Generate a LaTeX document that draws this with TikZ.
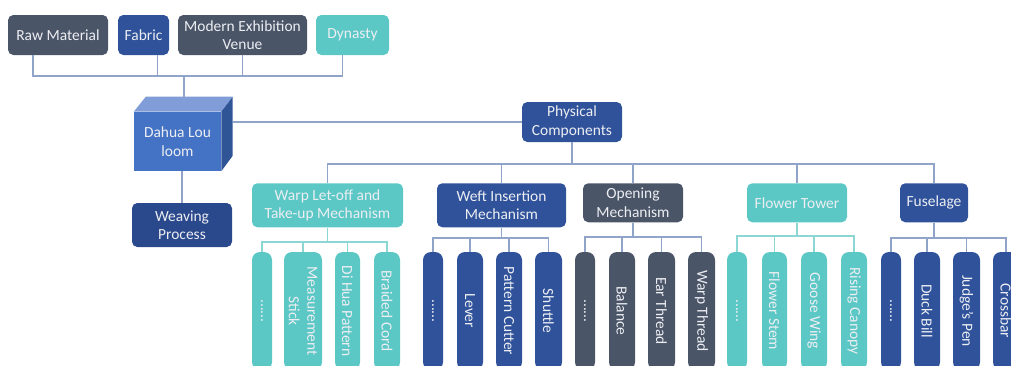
\documentclass[tikz,border=0pt]{standalone}
\usepackage{fontspec}
\setmainfont{Carlito}
\usetikzlibrary{positioning, calc}
\definecolor{slate}{RGB}{75,85,104}
\definecolor{navy}{RGB}{47,82,155}
\definecolor{deepnavy}{RGB}{42,72,140}
\definecolor{aqua}{RGB}{92,200,198}
\definecolor{wire}{RGB}{143,164,200}
\definecolor{aquawire}{RGB}{140,214,212}
\definecolor{cubefront}{RGB}{68,114,196}
\definecolor{cubetop}{RGB}{128,157,216}
\definecolor{cubeside}{RGB}{47,85,151}
\definecolor{ink}{RGB}{236,238,242}

\begin{document}
\begin{tikzpicture}[x=0.75pt, y=-0.75pt, font=\fontsize{11.6}{13.8}\selectfont,
    box/.style={rounded corners=4pt, fill=#1, text=ink, align=center, inner sep=1pt},
    leaf/.style={rounded corners=6pt, fill=#1, text=ink, align=center, inner sep=1pt, rotate=-90, minimum width=88.5pt},
    link/.style={draw=wire, line width=1.2pt},
  ]
  \useasboundingbox (0,0) rectangle (1011,365);

  % Attributes on top
  \node[box=slate, minimum width=75pt, minimum height=30pt] (raw) at (58,35) {Raw Material};
  \node[box=navy, minimum width=38.25pt, minimum height=30pt] (fabric) at (143.5,35) {Fabric};
  \node[box=slate, minimum width=96.75pt, minimum height=30pt] (venue) at (242.5,35) {Modern Exhibition\\Venue};
  \node[box=aqua, minimum width=54.75pt, minimum height=30pt] (dynasty) at (352.5,35) {Dynasty};
  \coordinate (topbus) at (184,76);
  \draw[link] ([xshift=-18.75pt]raw.south) |- (topbus);
  \draw[link] ([xshift=10.5pt]fabric.south) |- (topbus);
  \draw[link] (venue.south) |- (topbus);
  \draw[link] ([xshift=-7.5pt]dynasty.south) |- (topbus);

  % The loom (cube)
  \node[fill=cubefront, text=ink, align=center, minimum width=65.25pt, minimum height=44.25pt] (loom) at (177.5,141.5) {Dahua Lou\\loom};
  \fill[cubetop] (loom.north west) -- ++(12,-15) -- ++(87,0) coordinate (cubeback) -- (loom.north east) -- cycle;
  \fill[cubeside] (loom.north east) -- (cubeback) -- ++(0,59) -- (loom.south east) -- cycle;
  \draw[link] (topbus) -- (topbus |- cubeback);

  % Weaving process
  \node[box=deepnavy, minimum width=75pt, minimum height=33pt] (weave) at (182,225) {Weaving\\Process};
  \draw[link] (weave.north) -- (weave.north |- loom.south);

  % Physical components
  \node[box=navy, minimum width=75pt, minimum height=30pt] (phys) at (572,122) {Physical\\Components};
  \draw[link] (cubeback |- phys.west) -- (phys.west);
  \coordinate (midbus) at (572,164);
  \draw[link] (phys.south) -- (midbus);
  \foreach \name/\x/\w/\h/\col/\txt in {
      warp/327.5/151/44/aqua/{Warp Let-off and\\Take-up Mechanism},
      weft/501.5/129/44/navy/{Weft Insertion\\Mechanism},
      opening/633/100/39/slate/{Opening\\Mechanism},
      flower/797/100/39/aqua/{Flower Tower},
      fuselage/934/68/39/navy/{Fuselage}} {
    \node[box=\col, anchor=north, minimum width=\w*0.75pt, minimum height=\h*0.75pt] (\name) at (\x,183) {\txt};
    \draw[link] (\name.north) |- (midbus);
  }

  % Warp let-off parts
  \coordinate (warpbus) at (327.5,242);
  \draw[link, draw=aquawire] (warp.south) -- (warpbus);
  \foreach \x/\w/\txt [count=\i] in {262/20/{......}, 303/38/{Measurement\\Stick}, 347.5/25/{Di Hua Pattern}, 387/26/{Braided Cord}} {
    \node[leaf=aqua, minimum height=\w*0.75pt] (warp\i) at (\x,311) {\txt};
    \draw[link, draw=aquawire] (warp\i.west) |- (warpbus);
  }

  % Weft insertion parts
  \coordinate (weftbus) at (501.5,238);
  \draw[link] (weft.south) -- (weftbus);
  \foreach \x/\w/\txt [count=\i] in {433/20/{......}, 470/26/{Lever}, 509/26/{Pattern Cutter}, 548.5/27/{Shuttle}} {
    \node[leaf=navy, minimum height=\w*0.75pt] (weft\i) at (\x,311) {\txt};
    \draw[link] (weft\i.west) |- (weftbus);
  }

  % Opening parts
  \coordinate (openingbus) at (633,237);
  \draw[link] (opening.south) -- (openingbus);
  \foreach \x/\w/\txt [count=\i] in {585/20/{......}, 622/26/{Balance}, 661.5/27/{Ear Thread}, 701.5/27/{Warp Thread}} {
    \node[leaf=slate, minimum height=\w*0.75pt] (opening\i) at (\x,311) {\txt};
    \draw[link] (opening\i.west) |- (openingbus);
  }

  % Flower tower parts
  \coordinate (flowerbus) at (797,236);
  \draw[link, draw=aquawire] (flower.south) -- (flowerbus);
  \foreach \x/\w/\txt [count=\i] in {737/20/{......}, 774.5/25/{Flower Stem}, 814/26/{Goose Wing}, 854/26/{Rising Canopy}} {
    \node[leaf=aqua, minimum height=\w*0.75pt] (flower\i) at (\x,311) {\txt};
    \draw[link, draw=aquawire] (flower\i.west) |- (flowerbus);
  }

  % Fuselage parts
  \coordinate (fuselagebus) at (934,238);
  \draw[link] (fuselage.south) -- (fuselagebus);
  \foreach \x/\w/\txt [count=\i] in {891/20/{......}, 927/26/{Duck Bill}, 966.5/27/{Judge’s Pen}, 1006/26/{Crossbar}} {
    \node[leaf=navy, minimum height=\w*0.75pt] (fuselage\i) at (\x,311) {\txt};
    \draw[link] (fuselage\i.west) |- (fuselagebus);
  }
\end{tikzpicture}
\end{document}
